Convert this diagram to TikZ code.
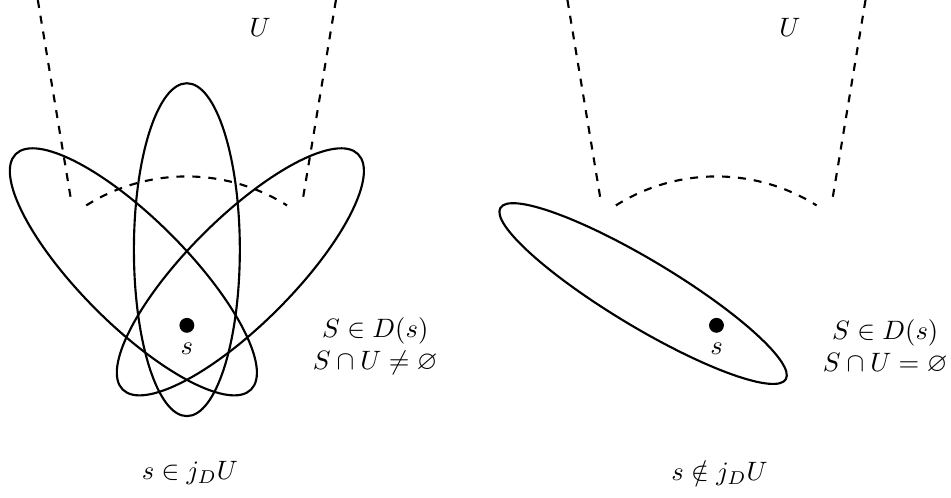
\documentclass[tikz,border=0pt]{standalone}
\usepackage{amsmath,amssymb}
\usetikzlibrary{positioning}

\begin{document}
\begin{tikzpicture}[
    dot/.style={circle, fill=black, inner sep=0pt, minimum size=5.6pt},
    setline/.style={thick},
    ubound/.style={thick, dashed},
    cond/.style={align=center}
]
\useasboundingbox (-2.47,-2.27) rectangle (10.10,4.30);

% the open set U, once per panel
\foreach \dx in {0,7} {
    \draw[ubound] (\dx-1.97,4.30) -- (\dx-1.53,1.65);
    \draw[ubound] (\dx+1.97,4.30) -- (\dx+1.53,1.65);
    \draw[ubound] (\dx-1.33,1.585) arc[start angle=122.2, end angle=57.8, radius=2.49];
    \node at (\dx+0.97,3.94) {$U$};
}

% left panel: s in j_D U
\node[dot] (s1) at (0,0) {};
\node[below=0pt of s1] (s1lab) {$s$};
\foreach \ang in {-45,0,45}
    \draw[setline, rotate around={\ang:(s1)}] (0,1) ellipse[x radius=0.7, y radius=2.2];
\node[cond] (cond1) at (2.49,-0.28) {$S\in D(s)$\\$S\cap U\neq\varnothing$};
\node (mem1) at (0.04,-1.95) {$s\in j_DU$};

% right panel: s not in j_D U
\node[dot] (s2) at (7,0) {};
\node[below=0pt of s2] (s2lab) {$s$};
\coordinate (e2) at (6.03,0.42);
\draw[setline, rotate around={59:(e2)}] (e2) ellipse[x radius=0.44, y radius=2.2];
\node[cond] (cond2) at (9.23,-0.28) {$S\in D(s)$\\$S\cap U=\varnothing$};
\node (mem2) at (7.04,-1.95) {$s\notin j_DU$};
\end{tikzpicture}
\end{document}
